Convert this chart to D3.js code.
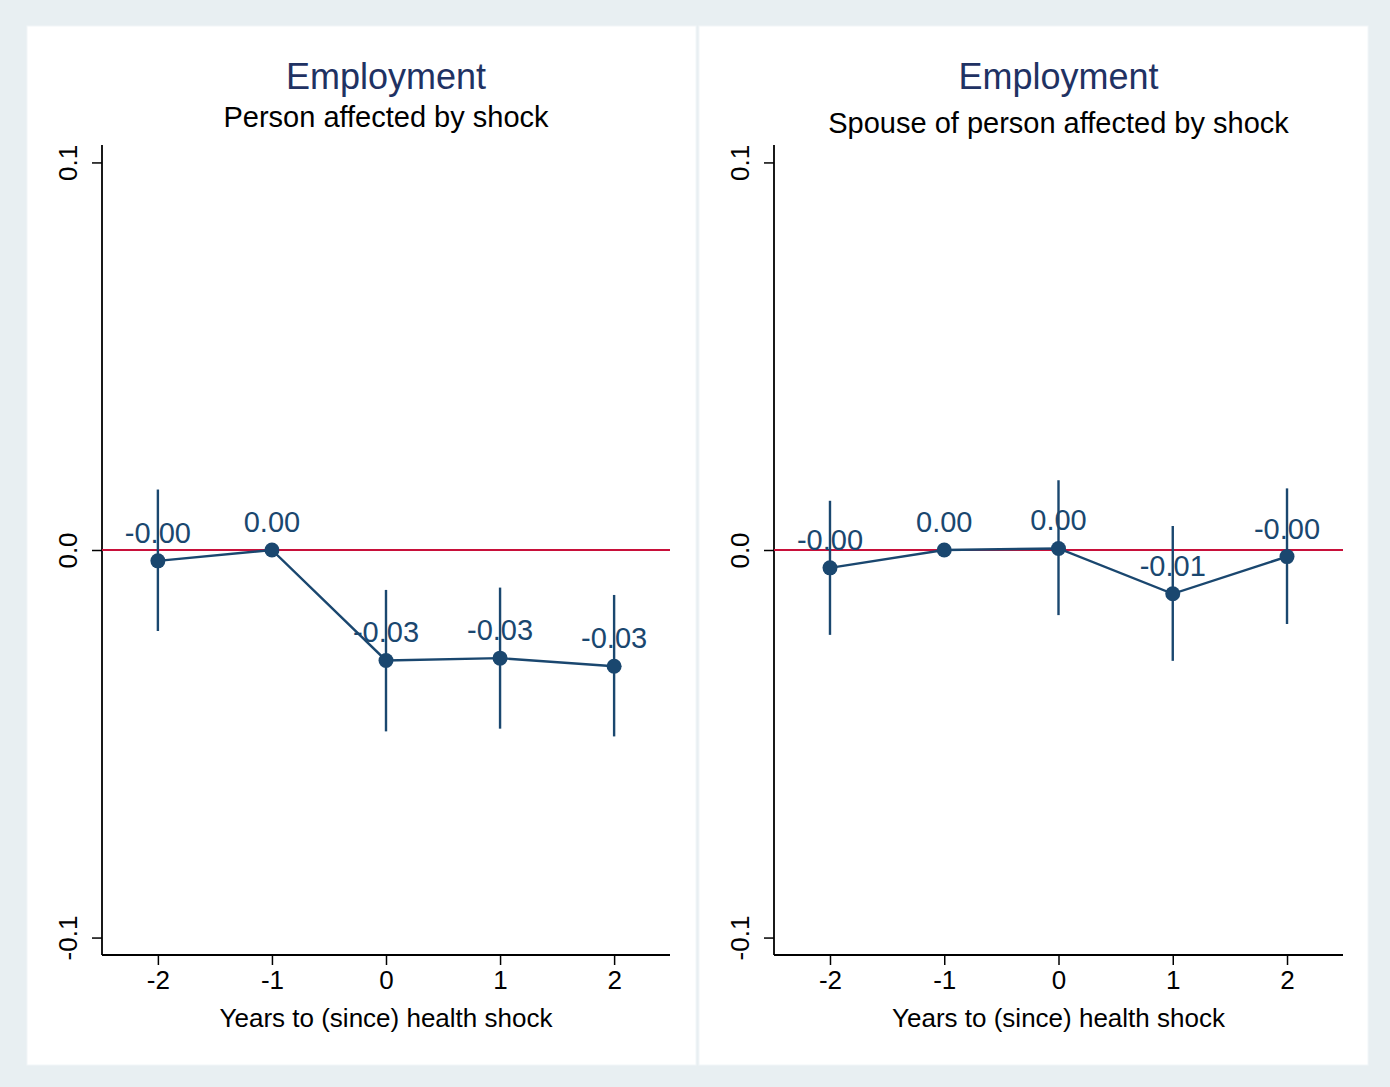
<!DOCTYPE html>
<html>
<head>
<meta charset="utf-8">
<script src="https://cdn.jsdelivr.net/npm/d3@7"></script>
<style>
  html, body { margin: 0; padding: 0; background: #e8eff2; }
  svg { display: block; }
  text { font-family: "Liberation Sans", Arial, Helvetica, sans-serif; }
</style>
</head>
<body>
<svg id="chart" width="1390" height="1087"></svg>
<script>
// Event-study estimates: years relative to the health shock
const years = [-2, -1, 0, 1, 2];

// Person affected by the shock
const personCoef = [-0.0028, 0, -0.0285, -0.0279, -0.0300];
const personLo   = [-0.0209, 0, -0.0468, -0.0461, -0.0481];
const personHi   = [ 0.0156, 0, -0.0103, -0.0097, -0.0116];

// Spouse of the person affected by the shock
const spouseCoef = [-0.0046, 0,  0.0004, -0.0113, -0.0017];
const spouseLo   = [-0.0219, 0, -0.0168, -0.0286, -0.0191];
const spouseHi   = [ 0.0127, 0,  0.0180,  0.0062,  0.0159];

const yTicks = [-0.1, 0, 0.1];
const yTickLabels = ["-0.1", "0.0", "0.1"];
const xTickLabels = ["-2", "-1", "0", "1", "2"];

const titles = ["Employment", "Employment"];
const subtitles = ["Person affected by shock", "Spouse of person affected by shock"];
const xTitle = "Years to (since) health shock";

const svg = d3.select("#chart");
const navy = "#1a476f";

// full-graph background
svg.append("rect").attr("width", 1390).attr("height", 1087).attr("fill", "#e8eff2");

const panels = [
  { bx: 27,  bw: 669, x0: 102, x1: 670, subY: 127, coef: personCoef, lo: personLo, hi: personHi },
  { bx: 699, bw: 669, x0: 774, x1: 1343, subY: 133, coef: spouseCoef, lo: spouseLo, hi: spouseHi }
];

panels.forEach((p, i) => {
  const g = svg.append("g");
  g.append("rect").attr("x", p.bx).attr("y", 26).attr("width", p.bw).attr("height", 1039)
    .attr("fill", "#ffffff").attr("stroke", "#f1f6f8").attr("stroke-width", 1);

  const x = d3.scaleLinear().domain([-2.49, 2.49]).range([p.x0, p.x1]);
  const y = d3.scaleLinear().domain([-0.1045, 0.1045]).range([955, 145]);
  const cx = (p.x0 + p.x1) / 2;

  // titles
  g.append("text").attr("x", cx).attr("y", 89).attr("text-anchor", "middle")
    .attr("font-size", 36).attr("fill", "#1f3263").text(titles[i]);
  g.append("text").attr("x", cx).attr("y", p.subY).attr("text-anchor", "middle")
    .attr("font-size", 29).attr("fill", "#000").text(subtitles[i]);

  // y axis
  const yAxis = d3.axisLeft(y).tickValues(yTicks).tickSize(10)
    .tickFormat((d, k) => yTickLabels[k]);
  const ya = g.append("g").attr("transform", `translate(${p.x0},0)`).call(yAxis);
  ya.select(".domain").attr("stroke", "#000").attr("stroke-width", 1.8)
    .attr("d", `M0,${y.range()[1]}V${y.range()[0]}`);
  ya.selectAll(".tick line").attr("stroke", "#000").attr("stroke-width", 1.5);
  ya.selectAll(".tick text")
    .attr("font-size", 26).attr("fill", "#000")
    .attr("x", null).attr("dy", null)
    .attr("text-anchor", "middle")
    .attr("transform", "translate(-25,0) rotate(-90)");

  // x axis
  const xAxis = d3.axisBottom(x).tickValues(years).tickSize(10)
    .tickFormat((d, k) => xTickLabels[k]);
  const xa = g.append("g").attr("transform", `translate(0,955)`).call(xAxis);
  xa.select(".domain").attr("stroke", "#000").attr("stroke-width", 1.8)
    .attr("d", `M${p.x0},0H${p.x1}`);
  xa.selectAll(".tick line").attr("stroke", "#000").attr("stroke-width", 1.5);
  xa.selectAll(".tick text").attr("font-size", 26).attr("fill", "#000")
    .attr("y", 34).attr("dy", null);

  g.append("text").attr("x", cx).attr("y", 1027).attr("text-anchor", "middle")
    .attr("font-size", 26).attr("fill", "#000").text(xTitle);

  // zero reference line
  g.append("line").attr("x1", p.x0).attr("x2", p.x1)
    .attr("y1", y(0)).attr("y2", y(0))
    .attr("stroke", "#c8103a").attr("stroke-width", 2);

  const pts = years.map((yr, k) => ({ yr, c: p.coef[k], lo: p.lo[k], hi: p.hi[k] }));

  // confidence intervals
  g.selectAll(".ci").data(pts.filter(d => d.lo !== d.hi)).join("line")
    .attr("x1", d => x(d.yr)).attr("x2", d => x(d.yr))
    .attr("y1", d => y(d.hi)).attr("y2", d => y(d.lo))
    .attr("stroke", navy).attr("stroke-width", 2.4);

  // connecting line
  g.append("path").datum(pts)
    .attr("d", d3.line().x(d => x(d.yr)).y(d => y(d.c)))
    .attr("fill", "none").attr("stroke", navy).attr("stroke-width", 2.4);

  // markers
  g.selectAll(".pt").data(pts).join("circle")
    .attr("cx", d => x(d.yr)).attr("cy", d => y(d.c)).attr("r", 7.5)
    .attr("fill", navy);

  // value labels
  g.selectAll(".lbl").data(pts).join("text")
    .attr("x", d => x(d.yr)).attr("y", d => y(d.c) - 18)
    .attr("text-anchor", "middle").attr("font-size", 29).attr("fill", navy)
    .text(d => d.c.toFixed(2));
});
</script>
</body>
</html>
